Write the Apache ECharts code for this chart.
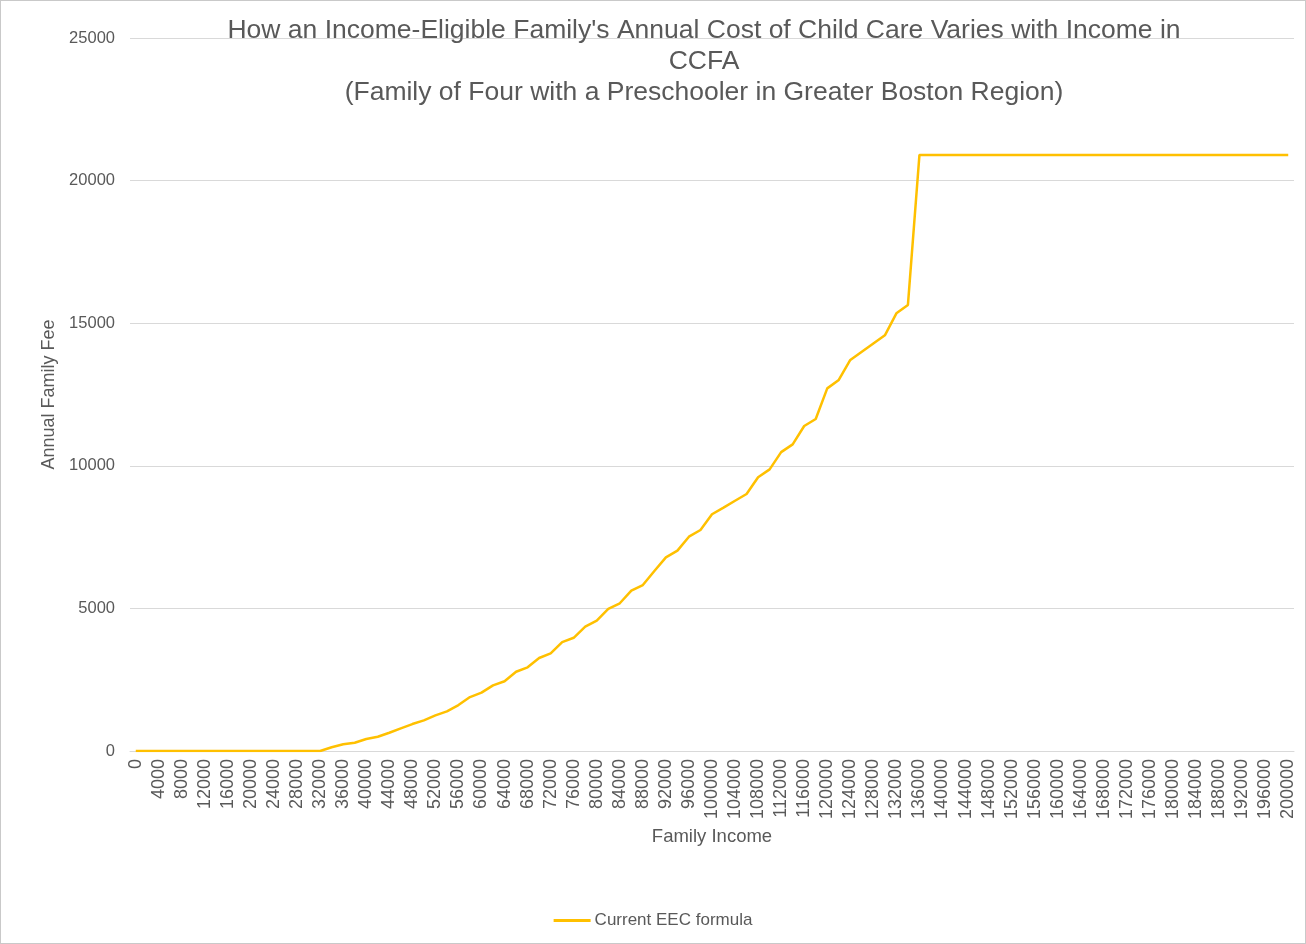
<!DOCTYPE html>
<html>
<head>
<meta charset="utf-8">
<script src="https://cdn.jsdelivr.net/npm/echarts@6/dist/echarts.min.js"></script>
<style>
  html, body { margin: 0; padding: 0; background: #fff; }
  #chart {
    width: 1306px;
    height: 944px;
    box-sizing: border-box;
    border: 1px solid #c9c9c9;
  }
</style>
</head>
<body>
<div id="chart"></div>
<script>
// 家庭收入（类目）
const incomes = [
  0, 2000, 4000, 6000, 8000, 10000, 12000, 14000, 16000, 18000,
  20000, 22000, 24000, 26000, 28000, 30000, 32000, 34000, 36000, 38000,
  40000, 42000, 44000, 46000, 48000, 50000, 52000, 54000, 56000, 58000,
  60000, 62000, 64000, 66000, 68000, 70000, 72000, 74000, 76000, 78000,
  80000, 82000, 84000, 86000, 88000, 90000, 92000, 94000, 96000, 98000,
  100000, 102000, 104000, 106000, 108000, 110000, 112000, 114000, 116000, 118000,
  120000, 122000, 124000, 126000, 128000, 130000, 132000, 134000, 136000, 138000,
  140000, 142000, 144000, 146000, 148000, 150000, 152000, 154000, 156000, 158000,
  160000, 162000, 164000, 166000, 168000, 170000, 172000, 174000, 176000, 178000,
  180000, 182000, 184000, 186000, 188000, 190000, 192000, 194000, 196000, 198000,
  200000,
]

// 年度家庭费用
const annualFee = [
  0, 0, 0, 0, 0, 0, 0, 0, 0, 0,
  0, 0, 0, 0, 0, 0, 0, 130, 235, 290,
  420, 500, 640, 795, 945, 1075, 1250, 1390, 1610, 1890,
  2045, 2300, 2445, 2780, 2935, 3260, 3425, 3820, 3970, 4360,
  4570, 4980, 5180, 5620, 5820, 6310, 6790, 7025, 7515, 7750,
  8300, 8535, 8775, 9010, 9600, 9875, 10480, 10750, 11395, 11640,
  12715, 13010, 13710, 14000, 14290, 14575, 15345, 15640, 20900, 20900,
  20900, 20900, 20900, 20900, 20900, 20900, 20900, 20900, 20900, 20900,
  20900, 20900, 20900, 20900, 20900, 20900, 20900, 20900, 20900, 20900,
  20900, 20900, 20900, 20900, 20900, 20900, 20900, 20900, 20900, 20900,
  20900,
]

const yTicks = [0, 5000, 10000, 15000, 20000, 25000]

const textColor = '#595959'
const gridColor = '#d9d9d9'
const font = 'Liberation Sans, Arial, sans-serif'

const chart = echarts.init(document.getElementById('chart'))

chart.setOption({
  animation: false,
  textStyle: { fontFamily: font },
  title: {
    text: "How an Income-Eligible Family's Annual Cost of Child Care Varies with Income in\nCCFA\n(Family of Four with a Preschooler in Greater Boston Region)",
    left: 698,
    textAlign: 'center',
    top: 9,
    textStyle: {
      fontFamily: font,
      fontSize: 26.5,
      fontWeight: 'normal',
      color: textColor,
      lineHeight: 31,
    },
  },
  legend: {
    top: 906,
    left: 'center',
    icon: 'rect',
    itemWidth: 37,
    itemHeight: 3,
    itemGap: 4,
    textStyle: { fontFamily: font, fontSize: 17, color: textColor, padding: [0, 0, 0, -1] },
    data: ['Current EEC formula'],
  },
  grid: {
    left: 129,
    right: 11,
    top: 37,
    bottom: 192,
  },
  xAxis: {
    type: 'category',
    data: incomes,
    boundaryGap: true,
    name: 'Family Income',
    nameLocation: 'middle',
    nameGap: 76,
    nameTextStyle: { fontFamily: font, fontSize: 18.5, color: textColor },
    axisLine: { lineStyle: { color: gridColor, width: 1 } },
    axisTick: { show: false },
    axisLabel: {
      interval: 1,
      rotate: 90,
      margin: 8,
      fontFamily: font,
      fontSize: 18,
      color: textColor,
    },
  },
  yAxis: {
    type: 'value',
    min: yTicks[0],
    max: yTicks[yTicks.length - 1],
    interval: 5000,
    name: 'Annual Family Fee',
    nameLocation: 'middle',
    nameGap: 67,
    nameTextStyle: { fontFamily: font, fontSize: 18, color: textColor },
    axisLine: { show: false },
    axisTick: { show: false },
    axisLabel: {
      margin: 15,
      fontFamily: font,
      fontSize: 16.5,
      color: textColor,
      formatter: (v) => String(v),
    },
    splitLine: { lineStyle: { color: gridColor, width: 1 } },
  },
  series: [
    {
      name: 'Current EEC formula',
      type: 'line',
      data: annualFee,
      symbol: 'none',
      showSymbol: false,
      lineStyle: { color: '#FFC000', width: 2.5 },
      itemStyle: { color: '#FFC000' },
    },
  ],
})
</script>
</body>
</html>
